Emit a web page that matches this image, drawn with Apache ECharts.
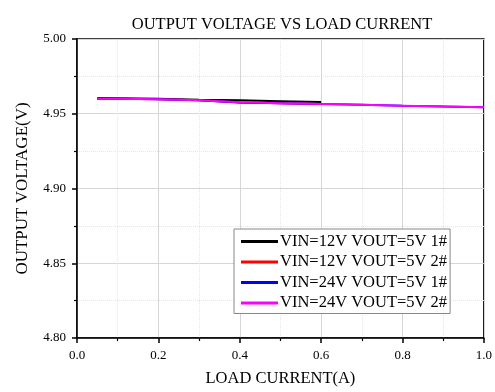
<!DOCTYPE html>
<html>
<head>
<meta charset="utf-8">
<script src="https://cdn.jsdelivr.net/npm/echarts@6/dist/echarts.min.js"></script>
<style>
html, body { margin: 0; padding: 0; background: #fff; }
#main { width: 495px; height: 392px; }
</style>
</head>
<body>
<div id="main"></div>
<script>
// load current (A)
var currentA = [0.05, 0.1, 0.2, 0.3, 0.4, 0.5, 0.6];
var currentB = [0.05, 0.1, 0.2, 0.3, 0.4, 0.5, 0.6, 0.7, 0.8, 0.9, 1.0];

// output voltage (V)
var vin12_1 = [4.9605, 4.9604, 4.9600, 4.9594, 4.9590, 4.9584, 4.9578];
var vin12_2 = [4.9600, 4.9600, 4.9597, 4.9590, 4.9576, 4.9571, 4.9566];
var vin24_1 = [4.9600, 4.9600, 4.9597, 4.9590, 4.9575, 4.9570, 4.9566, 4.9560, 4.9553, 4.9548, 4.9543];
var vin24_2 = [4.9600, 4.9600, 4.9597, 4.9590, 4.9577, 4.9571, 4.9566, 4.9560, 4.9554, 4.9548, 4.9543];

var seriesNames = ['VIN=12V VOUT=5V 1#', 'VIN=12V VOUT=5V 2#', 'VIN=24V VOUT=5V 1#', 'VIN=24V VOUT=5V 2#'];
var seriesColors = ['#000000', '#ff0000', '#0000ff', '#ff00ff'];

function pairs(xs, ys) {
	var out = [];
	for (var i = 0; i < xs.length; i++) out.push([xs[i], ys[i]]);
	return out;
}

var allData = [pairs(currentA, vin12_1), pairs(currentA, vin12_2), pairs(currentB, vin24_1), pairs(currentB, vin24_2)];

var font = 'Liberation Serif';

var myChart = echarts.init(document.getElementById('main'));
var option = {
	animation: false,
	title: {
		text: 'OUTPUT VOLTAGE VS LOAD CURRENT',
		left: 282,
		textAlign: 'center',
		top: 16,
		padding: 0,
		textStyle: { fontFamily: font, fontWeight: 'normal', fontSize: 16.5, color: '#000' }
	},
	grid: {
		left: 77, right: 7, top: 39, bottom: 48,
		show: true, borderColor: '#000', borderWidth: 1.5
	},
	legend: {
		orient: 'vertical',
		left: 234, top: 229,
		data: seriesNames,
		icon: 'rect',
		itemWidth: 37, itemHeight: 3, itemGap: 3.5,
		padding: [4, 3, 2, 7],
		borderColor: '#888', borderWidth: 1, backgroundColor: '#fff',
		textStyle: { fontFamily: font, fontSize: 16.5, color: '#000', padding: [0, 0, 0, -3] }
	},
	xAxis: {
		type: 'value', min: 0, max: 1, interval: 0.2,
		name: 'LOAD CURRENT(A)', nameLocation: 'middle', nameGap: 32,
		nameTextStyle: { fontFamily: font, fontSize: 16.5, color: '#000' },
		axisLine: { onZero: false, lineStyle: { color: '#000', width: 1.5 } },
		axisTick: { inside: false, length: 5, lineStyle: { color: '#000', width: 1.5 } },
		minorTick: { show: true, splitNumber: 2, length: 3, lineStyle: { color: '#000', width: 1.2 } },
		axisLabel: { fontFamily: font, fontSize: 13, color: '#000', margin: 11,
			formatter: function (v) { return v.toFixed(1); } },
		splitLine: { show: true, lineStyle: { color: '#d6d6d6', width: 1 } },
		minorSplitLine: { show: true, lineStyle: { color: '#e6e6e6', type: 'dotted', width: 1 } }
	},
	yAxis: {
		type: 'value', min: 4.8, max: 5.0, interval: 0.05,
		name: 'OUTPUT VOLTAGE(V)', nameLocation: 'middle', nameGap: 46,
		nameTextStyle: { fontFamily: font, fontSize: 17, color: '#000' },
		axisLine: { onZero: false, lineStyle: { color: '#000', width: 1.5 } },
		axisTick: { inside: false, length: 5, lineStyle: { color: '#000', width: 1.5 } },
		minorTick: { show: true, splitNumber: 2, length: 3, lineStyle: { color: '#000', width: 1.2 } },
		axisLabel: { fontFamily: font, fontSize: 13, color: '#000', margin: 11,
			formatter: function (v) { return v.toFixed(2); } },
		splitLine: { show: true, lineStyle: { color: '#d6d6d6', width: 1 } },
		minorSplitLine: { show: true, lineStyle: { color: '#e6e6e6', type: 'dotted', width: 1 } }
	},
	series: seriesNames.map(function (n, i) {
		return {
			name: n,
			type: 'line',
			data: allData[i],
			symbol: 'none',
			color: seriesColors[i],
			lineStyle: { width: 2, color: seriesColors[i] }
		};
	})
};
myChart.setOption(option);
</script>
</body>
</html>
